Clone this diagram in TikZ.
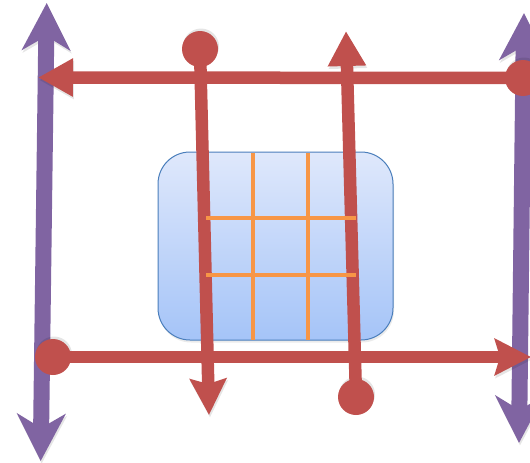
\documentclass[tikz,border=0pt]{standalone}
\usetikzlibrary{arrows.meta}
\definecolor{redc}{HTML}{C0504D}
\definecolor{purc}{HTML}{8064A2}
\definecolor{orgc}{HTML}{F79646}
\definecolor{boxb}{HTML}{4A7EBB}
\definecolor{boxt}{RGB}{223,232,251}
\definecolor{boxbot}{RGB}{165,196,248}
\tikzset{
  shadowed/.style={preaction={draw=black,opacity=0.1,transform canvas={shift={(1pt,-2.5pt)}}}},
  purplearrow/.style={draw=purc,line width=16pt,shadowed,
    {Stealth[length=47pt,width=48pt,inset=14pt]}-{Stealth[length=47pt,width=48pt,inset=14pt]}},
  redline/.style={draw=redc,line width=12.5pt,shadowed},
  redtri/.style={-{Triangle[length=35pt,width=36pt]}},
  redstealth/.style={-{Stealth[length=36pt,width=36pt,inset=5pt]}},
  dot/.style={circle,fill=redc,minimum size=36pt,inner sep=0pt},
  dotshadow/.style={circle,fill=black,opacity=0.1,minimum size=36pt,inner sep=0pt},
  gridline/.style={draw=orgc,line width=4.5pt},
  panel/.style={draw=boxb,line width=1pt,rounded corners=32pt,top color=boxt,bottom color=boxbot,
    minimum width=235pt,minimum height=188pt,inner sep=0pt,
    preaction={fill=black,opacity=0.08,transform canvas={shift={(1pt,-2.5pt)}}}}
}
\begin{document}
\begin{tikzpicture}[x=1pt,y=-1pt]
\useasboundingbox (0,0) rectangle (530,463);
% purple axes
\coordinate (lpt) at (46.7,3);
\coordinate (lpb) at (40.7,461);
\coordinate (rpt) at (524,13);
\coordinate (rpb) at (519,443);
\draw[purplearrow] (lpt) -- (lpb);
\draw[purplearrow] (rpt) -- (rpb);
% panel
\node[panel] (box) at (275.5,246) {};
% red arrow start points
\coordinate (c1) at (523,78);
\coordinate (c2) at (53,357);
\coordinate (c3) at (200,49);
\coordinate (c4) at (356,397);
\coordinate (t1) at (38,77.5);
\coordinate (t2) at (531,357);
\coordinate (t3) at (209,415);
\coordinate (t4) at (346,31);
\foreach \c in {c1,c2,c3,c4} {\node[dotshadow] at ([shift={(1pt,2.5pt)}]\c) {};}
\draw[redline,redtri] (c1) -- (t1);
\draw[redline,redstealth] (c2) -- (t2);
\draw[redline,redstealth] (c3) -- (t3);
\draw[redline,redtri] (c4) -- (t4);
\node[dot] (d1) at (c1) {};
\node[dot] (d2) at (c2) {};
\node[dot] (d3) at (c3) {};
\node[dot] (d4) at (c4) {};
% orange grid
\coordinate (g1a) at (253,153); \coordinate (g1b) at (253,340);
\coordinate (g2a) at (308,153); \coordinate (g2b) at (308,340);
\coordinate (g3a) at (206,218); \coordinate (g3b) at (356,218);
\coordinate (g4a) at (206,275); \coordinate (g4b) at (356,275);
\draw[gridline] (g1a) -- (g1b);
\draw[gridline] (g2a) -- (g2b);
\draw[gridline] (g3a) -- (g3b);
\draw[gridline] (g4a) -- (g4b);
\end{tikzpicture}
\end{document}
